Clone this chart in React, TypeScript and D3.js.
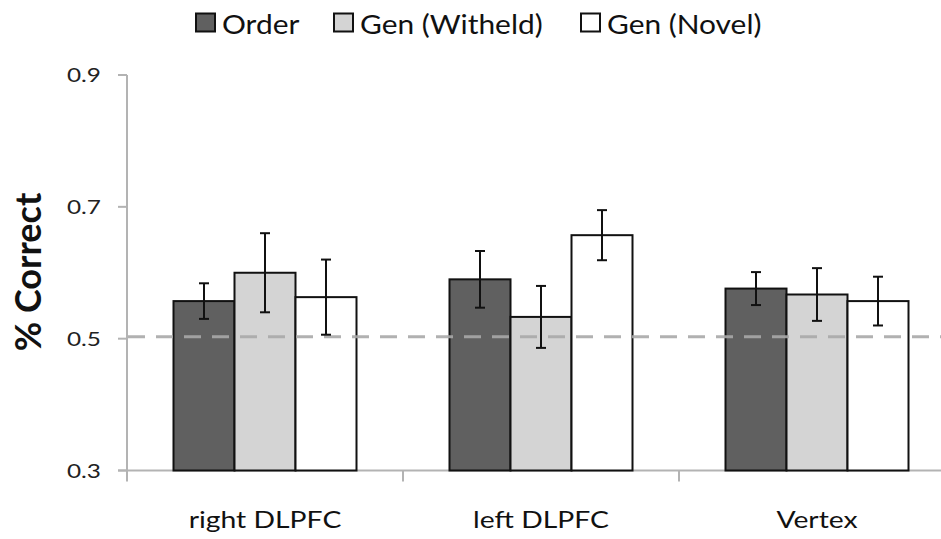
import React from "react";
import * as d3 from "d3";

const regions = ["right DLPFC", "left DLPFC", "Vertex"];
const seriesNames = ["Order", "Gen (Witheld)", "Gen (Novel)"];
const seriesFill = ["#606060", "#d4d4d4", "#ffffff"];

const orderMean = [0.557, 0.59, 0.576];
const orderErr = [0.027, 0.043, 0.025];
const witheldMean = [0.6, 0.533, 0.567];
const witheldErr = [0.06, 0.047, 0.04];
const novelMean = [0.563, 0.657, 0.557];
const novelErr = [0.057, 0.038, 0.037];

const yTicks = [0.3, 0.5, 0.7, 0.9];
const chanceLevel = 0.5;

const W = 941;
const H = 539;
const FONT = "Lato, 'Open Sans', sans-serif";

// Text drawn with a slight horizontal widening
function WideText(props: {
  x: number;
  y: number;
  sx: number;
  size: number;
  anchor?: "start" | "middle" | "end";
  children: React.ReactNode;
  fill?: string;
}) {
  const { x, y, sx, size, anchor = "start", children, fill = "#111" } = props;
  return (
    <text
      transform={`translate(${x},${y}) scale(${sx},1)`}
      fontSize={size}
      textAnchor={anchor}
      fill={fill}
    >
      {children}
    </text>
  );
}

export default function App() {
  const means = [orderMean, witheldMean, novelMean];
  const errs = [orderErr, witheldErr, novelErr];

  const x0 = 127;
  const band = 276;
  const x = d3
    .scaleBand<string>()
    .domain(regions)
    .range([x0, x0 + band * regions.length])
    .paddingInner(0)
    .paddingOuter(0);
  const groupW = 183;
  const xs = d3
    .scaleBand<string>()
    .domain(seriesNames)
    .range([(band - groupW) / 2, (band + groupW) / 2]);

  const y = d3.scaleLinear().domain([0.3, 0.9]).range([470.5, 75]);

  const axisColor = "#b3b3b3";
  const legendX = [195, 333, 580];

  return (
    <svg
      width={W}
      height={H}
      style={{ position: "absolute", left: 0, top: 0, background: "#fff" }}
      fontFamily={FONT}
    >
      {/* legend */}
      {seriesNames.map((name, i) => (
        <g key={name} transform={`translate(${legendX[i]},0)`}>
          <rect x={1} y={13.5} width={19} height={18} fill={seriesFill[i]} stroke="#111" strokeWidth={2} />
          <WideText x={27} y={34} sx={1.15} size={26}>
            {name}
          </WideText>
        </g>
      ))}

      {/* y axis */}
      <line x1={127} x2={127} y1={y(0.9)} y2={y(0.3) + 10} stroke={axisColor} strokeWidth={2} />
      {yTicks.map((t) => (
        <g key={t}>
          <line x1={118} x2={127} y1={y(t)} y2={y(t)} stroke={axisColor} strokeWidth={2} />
          <WideText x={101} y={y(t) + 7} sx={1.22} size={20} anchor="end" fill="#222">
            {d3.format(".1f")(t)}
          </WideText>
        </g>
      ))}
      <text
        transform={`translate(41,${272}) rotate(-90)`}
        textAnchor="middle"
        fontSize={36}
        fontWeight="bold"
        fill="#111"
      >
        % Correct
      </text>

      {/* x axis */}
      <line x1={118} x2={W} y1={y(0.3)} y2={y(0.3)} stroke={axisColor} strokeWidth={2} />
      {regions.map((r) => (
        <line key={r} x1={x(r)!} x2={x(r)!} y1={y(0.3)} y2={y(0.3) + 11} stroke={axisColor} strokeWidth={2} />
      ))}
      {regions.map((r) => (
        <WideText key={r} x={x(r)! + band / 2} y={528} sx={1.18} size={24} anchor="middle">
          {r}
        </WideText>
      ))}

      {/* bars */}
      {regions.map((r, ri) => (
        <g key={r} transform={`translate(${x(r)},0)`}>
          {seriesNames.map((s, si) => {
            const v = means[si][ri];
            return (
              <rect
                key={s}
                x={xs(s)!}
                y={y(v)}
                width={xs.bandwidth()}
                height={y(0.3) - y(v)}
                fill={seriesFill[si]}
                stroke="#111"
                strokeWidth={2}
              />
            );
          })}
        </g>
      ))}

      {/* chance line */}
      <line
        x1={128}
        x2={W}
        y1={y(chanceLevel) - 2}
        y2={y(chanceLevel) - 2}
        stroke="#a9a9a9"
        strokeWidth={3}
        strokeDasharray="17 11"
        opacity={0.9}
      />

      {/* error bars */}
      {regions.map((r, ri) => (
        <g key={r} transform={`translate(${x(r)},0)`}>
          {seriesNames.map((s, si) => {
            const v = means[si][ri];
            const e = errs[si][ri];
            const cx = xs(s)! + xs.bandwidth() / 2;
            return (
              <g key={s} stroke="#111" strokeWidth={2}>
                <line x1={cx} x2={cx} y1={y(v + e)} y2={y(v - e)} />
                <line x1={cx - 5} x2={cx + 5} y1={y(v + e)} y2={y(v + e)} />
                <line x1={cx - 5} x2={cx + 5} y1={y(v - e)} y2={y(v - e)} />
              </g>
            );
          })}
        </g>
      ))}
    </svg>
  );
}
